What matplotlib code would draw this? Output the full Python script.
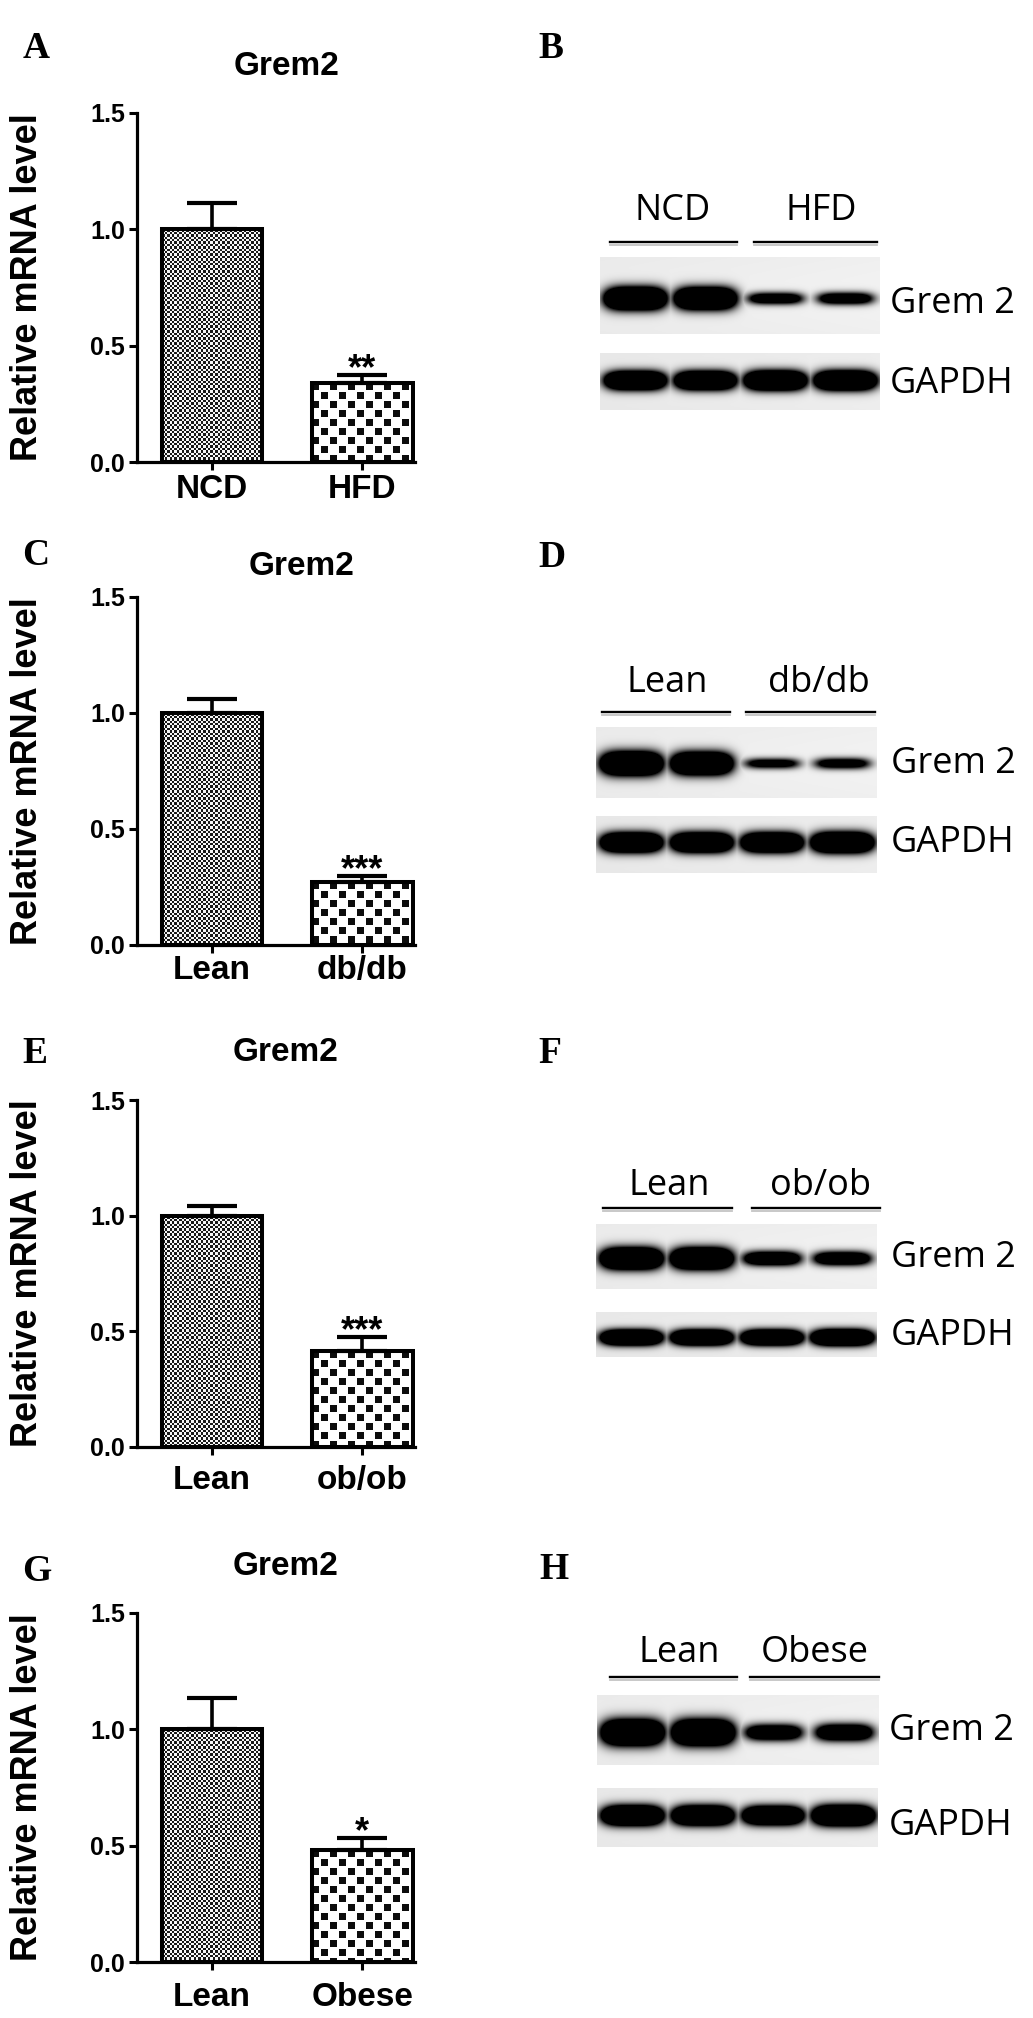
import numpy as np
import matplotlib
matplotlib.use("Agg")
import matplotlib.pyplot as plt
from matplotlib.lines import Line2D

# ---------------- data ----------------
groups_A = ["NCD", "HFD"]
means_A = [1.0, 0.34]
sems_A = [0.115, 0.035]
sig_A = "**"

groups_C = ["Lean", "db/db"]
means_C = [1.0, 0.273]
sems_C = [0.06, 0.025]
sig_C = "***"

groups_E = ["Lean", "ob/ob"]
means_E = [1.0, 0.416]
sems_E = [0.04, 0.058]
sig_E = "***"

groups_G = ["Lean", "Obese"]
means_G = [1.0, 0.48]
sems_G = [0.135, 0.053]
sig_G = "*"

yticks = [0.0, 0.5, 1.0, 1.5]
ytick_labels = ["0.0", "0.5", "1.0", "1.5"]
bar_title = "Grem2"
ylabel_text = "Relative mRNA level"

# western blot band intensities (relative, per lane)
blot_groups_B = ["NCD", "HFD"]
grem2_B = [1.0, 0.97, 0.36, 0.38]
gapdh_B = [0.95, 0.95, 1.0, 1.0]

blot_groups_D = ["Lean", "db/db"]
grem2_D = [1.0, 0.95, 0.24, 0.28]
gapdh_D = [0.95, 0.95, 0.95, 1.0]

blot_groups_F = ["Lean", "ob/ob"]
grem2_F = [1.0, 1.0, 0.55, 0.52]
gapdh_F = [0.95, 0.95, 0.95, 1.0]

blot_groups_H = ["Lean", "Obese"]
grem2_H = [1.0, 1.0, 0.5, 0.55]
gapdh_H = [0.97, 0.95, 0.9, 1.0]

blot_labels = ["Grem 2", "GAPDH"]

# ---------------- figure ----------------
W, H = 1033, 2018
fig = plt.figure(figsize=(W / 100, H / 100), dpi=100)
fig.patch.set_facecolor("white")

SANS = "Liberation Sans"
SERIF = "Liberation Serif"
BLOT = "Open Sans"


def fx(x):
    return x / W


def fy(y):
    return 1 - y / H


def ctext(x, yc, s, size, family, weight="normal", cap=0.716, ha="center"):
    em = size * 100 / 72
    fig.text(fx(x), fy(yc + cap * em / 2), s, ha=ha, va="baseline",
             fontsize=size, family=family, fontweight=weight, color="black")


def fine_pattern(h, w):
    yy, xx = np.mgrid[0:h, 0:w]
    c = 2.4
    chk = ((np.floor(xx / c) + np.floor(yy / c)) % 2) == 0
    return np.where(chk, 0.1, 0.97)


def coarse_pattern(h, w):
    yy, xx = np.mgrid[0:h, 0:w]
    c, s = 9, 7
    blk = (((xx // c) + (yy // c)) % 2 == 0) & ((xx % c) < s) & ((yy % c) < s)
    return np.where(blk, 0.05, 1.0)


def bar_panel(letter, groups, means, sems, sig, top, bot, title_xy, letter_xy, xpad):
    ax = fig.add_axes([fx(137), fy(bot), fx(415) - fx(137), (bot - top) / H])
    ax.set_facecolor("none")
    x = np.arange(len(groups))
    bw = 0.67
    ax.bar(x, means, width=bw, facecolor="none", edgecolor="black",
           linewidth=2.9, zorder=3)
    ax.errorbar(x, means, yerr=[np.zeros(len(sems)), sems], fmt="none",
                ecolor="black", elinewidth=2.6, capsize=18, capthick=3.0, zorder=2)
    ax.set_xlim(-0.5, 1.35)
    ax.set_ylim(0, 1.5)
    ax.set_yticks(yticks)
    ax.set_yticklabels(ytick_labels)
    ax.set_xticks(x)
    ax.set_xticklabels(groups)
    for sp in ["top", "right"]:
        ax.spines[sp].set_visible(False)
    for sp in ["left", "bottom"]:
        ax.spines[sp].set_linewidth(2.3)
    ax.tick_params(axis="both", direction="out", length=5.8, width=2.2)
    ax.tick_params(axis="y", pad=3)
    ax.tick_params(axis="x", pad=xpad)
    for t in ax.get_yticklabels():
        t.set_fontsize(18)
        t.set_fontweight("bold")
        t.set_family(SANS)
    for t in ax.get_xticklabels():
        t.set_fontsize(24)
        t.set_fontweight("bold")
        t.set_family(SANS)
    ax.annotate(sig, xy=(1, means[1] + sems[1]), xytext=(0, -3.0),
                textcoords="offset points", ha="center", va="baseline",
                fontsize=26, fontweight="bold", family=SANS, zorder=4)
    # bar textures
    for i, m in enumerate(means):
        x0, y0 = ax.transData.transform((i - bw / 2, 0))
        x1, y1 = ax.transData.transform((i + bw / 2, m))
        w = int(round(x1 - x0))
        h = int(round(y1 - y0))
        pat = fine_pattern(h, w) if i == 0 else coarse_pattern(h, w)
        rgb = np.dstack([pat] * 3)
        fig.figimage(rgb, xo=int(round(x0)), yo=int(round(y0)), zorder=-1)
    fig.text(fx(28), fy((top + bot) / 2), ylabel_text, rotation=90,
             ha="center", va="center", fontsize=26, fontweight="bold", family=SANS)
    ctext(title_xy[0], title_xy[1], bar_title, 24, SANS, weight="bold")
    ctext(letter_xy[0], letter_xy[1], letter, 27, SERIF, weight="bold", cap=0.662)


def render_strip(intens, w, h, band_y, hh0, bg):
    yy, xx = np.mgrid[0:h, 0:w].astype(float)
    base = bg - 0.02 * (1 - xx / w) + 0.01 * np.sin(yy / h * np.pi)
    dark = np.zeros((h, w))
    n = len(intens)
    for i, s in enumerate(intens):
        cx = (i + 0.5) / n * w
        hw = 0.108 * w * (0.88 + 0.12 * s)
        hh = hh0 * (0.3 + 0.7 * s)
        amp = 0.9 + 2.4 * s
        d = amp * np.exp(-np.abs((xx - cx) / hw) ** 4 - ((yy - band_y) / hh) ** 2)
        dark = np.maximum(dark, d)
    dark = np.clip(dark, 0, 1)
    img = base * (1 - dark)
    return np.clip(img, 0, 1)


def blot_panel(letter, letter_xy, groups, grem, gapdh, grp_x, grp_base, ul,
               grem_box, grem_band, grem_hh, gapdh_box, gapdh_band, gapdh_hh,
               lbl_x, grem_lbl_y, gapdh_lbl_y):
    ctext(letter_xy[0], letter_xy[1], letter, 27, SERIF, weight="bold", cap=0.662)
    for gx, g in zip(grp_x, groups):
        fig.text(fx(gx), fy(grp_base), g, ha="center", va="baseline",
                 fontsize=26, family=BLOT)
    (a0, a1), (b0, b1), uy = ul
    for x0, x1 in [(a0, a1), (b0, b1)]:
        fig.add_artist(Line2D([fx(x0), fx(x1)], [fy(uy + 3), fy(uy + 3)],
                              lw=1.3, color="#c4c4c4"))
        fig.add_artist(Line2D([fx(x0), fx(x1)], [fy(uy), fy(uy)],
                              lw=1.7, color="black"))
    for box, intens, band, hh, bg in [(grem_box, grem, grem_band, grem_hh, 0.94),
                                       (gapdh_box, gapdh, gapdh_band, gapdh_hh, 0.93)]:
        x0, y0, x1, y1 = box
        img = render_strip(intens, x1 - x0, y1 - y0, band, hh, bg)
        fig.figimage(np.dstack([img] * 3), xo=x0, yo=H - y1, zorder=-1)
    ctext(lbl_x, grem_lbl_y, blot_labels[0], 26, BLOT, ha="left")
    ctext(lbl_x, gapdh_lbl_y, blot_labels[1], 26, BLOT, ha="left")


# bar panels
bar_panel("A", groups_A, means_A, sems_A, sig_A, 113, 462, (287, 63), (36, 46), 3)
bar_panel("C", groups_C, means_C, sems_C, sig_C, 597, 945, (302, 563), (36, 553), 1.5)
bar_panel("E", groups_E, means_E, sems_E, sig_E, 1100, 1447, (286, 1049), (35, 1051), 7)
bar_panel("G", groups_G, means_G, sems_G, sig_G, 1613, 1962, (286, 1563), (37, 1569), 8.5)

# blot panels
blot_panel("B", (551, 46), blot_groups_B, grem2_B, gapdh_B, (673, 821), 220,
           ((610, 737), (754, 877), 242),
           (600, 257, 880, 334), 41, 10.5, (600, 353, 880, 410), 27, 9.0,
           890, 300, 380)
blot_panel("D", (552, 555), blot_groups_D, grem2_D, gapdh_D, (667, 819), 692,
           ((602, 730), (746, 875), 712),
           (596, 727, 877, 798), 36, 11.0, (596, 816, 877, 873), 26, 9.5,
           891, 760, 839)
blot_panel("F", (550, 1051), blot_groups_F, grem2_F, gapdh_F, (669, 820), 1195,
           ((603, 732), (752, 880), 1208),
           (596, 1224, 877, 1289), 34, 10.0, (596, 1312, 877, 1357), 25, 7.5,
           891, 1254, 1332)
blot_panel("H", (554, 1567), blot_groups_H, grem2_H, gapdh_H, (679, 815), 1662,
           ((610, 737), (750, 879), 1677),
           (597, 1695, 879, 1765), 37, 12.0, (597, 1788, 878, 1847), 27, 9.5,
           889, 1727, 1822)

fig.savefig("out.png", dpi=100)
